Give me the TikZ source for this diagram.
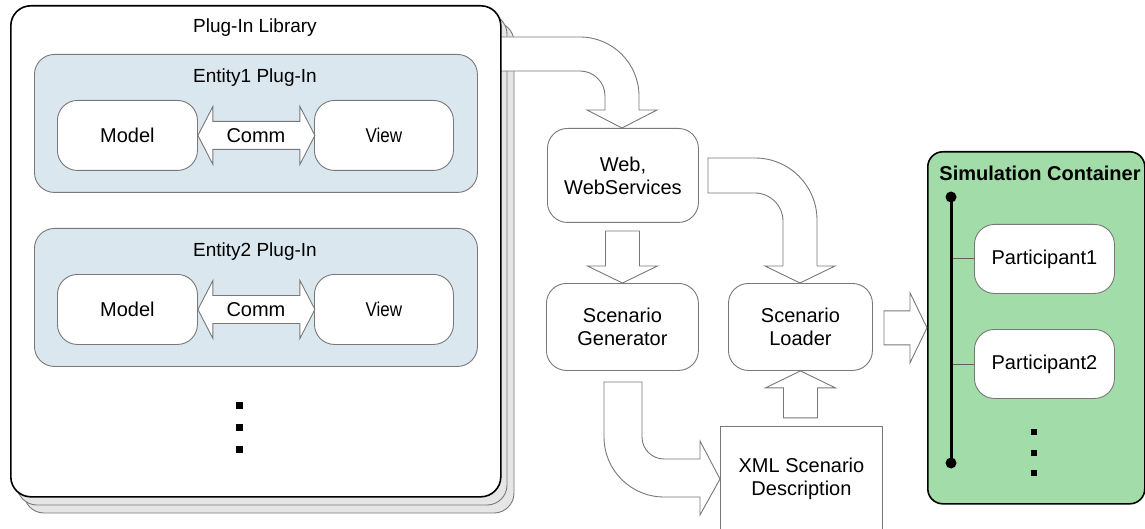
\documentclass[tikz,border=0pt]{standalone}
\usepackage{fontspec}
\setmainfont{Liberation Sans}
\newfontfamily\narrowfont[FakeStretch=0.85]{Liberation Sans}
\usetikzlibrary{calc}

\definecolor{linegray}{RGB}{120,120,120}
\definecolor{layergray}{RGB}{230,230,230}
\definecolor{entityblue}{RGB}{219,231,239}
\definecolor{simgreen}{RGB}{161,220,169}

\tikzset{
  txt/.style={font=\fontsize{20}{23}\selectfont, align=center},
  ttl/.style={font=\fontsize{19}{22}\selectfont},
  layer/.style={draw=linegray, line width=0.9pt, fill=layergray, rounded corners=20},
  libbox/.style={draw=black, line width=1.6pt, fill=white, rounded corners=20,
    anchor=north west, inner sep=0pt},
  entitybox/.style={draw=linegray, line width=0.9pt, fill=entityblue, rounded corners=20,
    anchor=north west, inner sep=0pt},
  roundbox/.style={draw=linegray, line width=0.9pt, fill=white, rounded corners=20,
    anchor=north west, inner sep=0pt, txt},
  plainbox/.style={draw=linegray, line width=0.9pt, fill=white,
    anchor=north west, inner sep=0pt, txt},
  simbox/.style={draw=black, line width=1.6pt, fill=simgreen, rounded corners=15,
    anchor=north west, inner sep=0pt},
  blk/.style={draw=linegray, line width=0.9pt, fill=white, line join=miter},
  bus/.style={draw=black, line width=3pt},
  conn/.style={draw=linegray!80!black, line width=0.9pt},
  dot/.style={fill=black, draw=none, minimum size=7pt, inner sep=0pt},
  pics/blkarrow/.style={code={
    \draw[blk] (0,0) -- (-35,-17) -- (-17,-17) -- (-17,-#1) -- (17,-#1)
      -- (17,-17) -- (35,-17) -- cycle;}},
  pics/dblarrow/.style={code={
    \draw[blk] (0,0) -- (15,-29) -- (15,-14) -- ({#1-15},-14) -- ({#1-15},-29)
      -- (#1,0) -- ({#1-15},29) -- ({#1-15},14) -- (15,14) -- (15,29) -- cycle;}},
}

\begin{document}
\begin{tikzpicture}[x=1pt,y=-1pt]
\clip (0,0) rectangle (1145,529);

% stacked copies behind the library
\draw[layer] (24,22) rectangle (514,513);
\draw[layer] (17,14) rectangle (507,505);

% library -> web services
\draw[blk] (500,37) -- (580,37) arc[start angle=-90, end angle=0, radius=59]
  -- (639,110) -- (657,110) -- (622,128) -- (587,110) -- (605,110) -- (605,96)
  arc[start angle=0, end angle=-90, radius=25] -- (500,71) -- cycle;

% plug-in library
\node[libbox, minimum width=490, minimum height=491] (lib) at (10,5) {};
\node[ttl] (libtitle) at (255,28) {Plug-In Library};

% entity 1
\node[entitybox, minimum width=443, minimum height=138] (e1) at (34,54) {};
\node[ttl] (e1title) at (255,78) {Entity1 Plug-In};
\node[roundbox, minimum width=140, minimum height=70] (m1) at (57,100) {Model};
\node[roundbox, minimum width=139, minimum height=70, font=\narrowfont\fontsize{20}{23}\selectfont] (v1) at (314,100) {View};
\pic at (m1.east) {dblarrow=117};
\node[txt] (c1) at ($(m1.east)!0.5!(v1.west)$) {Comm};

% entity 2
\node[entitybox, minimum width=443, minimum height=138] (e2) at (34,228) {};
\node[ttl] (e2title) at (255,252) {Entity2 Plug-In};
\node[roundbox, minimum width=140, minimum height=70] (m2) at (57,274) {Model};
\node[roundbox, minimum width=139, minimum height=70, font=\narrowfont\fontsize{20}{23}\selectfont] (v2) at (314,274) {View};
\pic at (m2.east) {dblarrow=117};
\node[txt] (c2) at ($(m2.east)!0.5!(v2.west)$) {Comm};

% more plug-ins
\node[dot] (ld1) at (239,405) {};
\node[dot] (ld2) at (239,427) {};
\node[dot] (ld3) at (239,449) {};

% middle column
\node[roundbox, minimum width=151, minimum height=94] (web) at (547,128) {Web,\\WebServices};
\node[roundbox, minimum width=152, minimum height=87] (gen) at (546,283) {Scenario\\Generator};
\node[roundbox, minimum width=144, minimum height=87] (load) at (728,283) {Scenario\\Loader};
\node[plainbox, minimum width=162, minimum height=105] (xml) at (720,426) {XML Scenario\\Description};

% web services -> scenario loader
\draw[blk] (708,158) -- (755,158) arc[start angle=-90, end angle=0, radius=62]
  -- (817,266) -- (835,266) -- (800,283) -- (765,266) -- (783,266) -- (783,221)
  arc[start angle=0, end angle=-90, radius=28] -- (708,193) -- cycle;

% web services -> scenario generator
\pic at (gen.north) {blkarrow=52};

% scenario generator -> xml description
\draw[blk] (604,382) -- (642,382) -- (642,437)
  arc[start angle=180, end angle=90, radius=22] -- (700,459) -- (700,441)
  -- (xml.west) -- (700,515) -- (700,497) -- (664,497)
  arc[start angle=90, end angle=180, radius=60] -- cycle;

% xml description -> scenario loader
\pic[rotate=180] at (load.south) {blkarrow=47};

% simulation container
\node[simbox, minimum width=217, minimum height=352] (sim) at (927,151) {};
\node[font=\bfseries\fontsize{20}{23}\selectfont] (simtitle) at (1040,173) {Simulation Container};

% scenario loader -> simulation container
\pic[rotate=90] at (sim.west) {blkarrow=43};

\coordinate (bt) at (951,197);
\coordinate (bb) at (951,463);
\node[roundbox, minimum width=140, minimum height=69] (p1) at (974,224) {Participant1};
\node[roundbox, minimum width=140, minimum height=69] (p2) at (974,329) {Participant2};
\draw[conn] (bt |- p1.west) -- (p1.west);
\draw[conn] (bt |- p2.west) -- (p2.west);
\draw[bus] (bt) -- (bb);
\fill (bt) circle[radius=5.5pt];
\fill (bb) circle[radius=5.5pt];

\node[dot, minimum size=6.5pt] (sd1) at (1034,432) {};
\node[dot, minimum size=6.5pt] (sd2) at (1034,453) {};
\node[dot, minimum size=6.5pt] (sd3) at (1034,473) {};
\end{tikzpicture}
\end{document}
